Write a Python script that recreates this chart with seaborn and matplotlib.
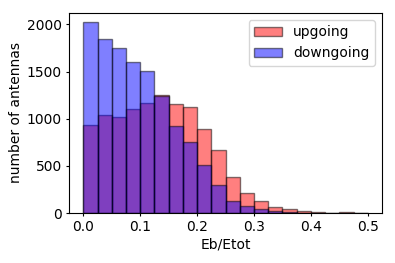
import numpy as np
import pandas as pd
import matplotlib
matplotlib.use("Agg")
import matplotlib.pyplot as plt
import seaborn as sns

# bin centres of Eb/Etot and counts per bin
bin_width = 0.025
centers = np.round(np.arange(0.0125, 0.5, 0.025), 4)
upgoing = [932, 1035, 1017, 1106, 1162, 1250, 1152, 1128, 895, 670,
           383, 213, 124, 64, 39, 21, 10, 2, 10, 2]
downgoing = [2021, 1844, 1751, 1599, 1503, 1240, 927, 750, 508, 294,
             131, 78, 39, 21, 12, 3, 1, 0, 1, 0]

df = pd.DataFrame({"x": centers, "up": upgoing, "down": downgoing})

plt.rcParams["font.size"] = 10
plt.rcParams["xtick.major.size"] = 2.5
plt.rcParams["ytick.major.size"] = 2.5
plt.rcParams["xtick.major.pad"] = 2.8
plt.rcParams["ytick.major.pad"] = 2.8
plt.rcParams["axes.labelpad"] = 2.5

fig, ax = plt.subplots(figsize=(3.95, 2.63), dpi=100)
edge = (0, 0, 0, 0.5)
sns.histplot(data=df, x="x", weights="up", binwidth=bin_width, binrange=(0, 0.5),
             color="red", alpha=0.5, edgecolor=edge, linewidth=1,
             label="upgoing", ax=ax)
sns.histplot(data=df, x="x", weights="down", binwidth=bin_width, binrange=(0, 0.5),
             color="blue", alpha=0.5, edgecolor=edge, linewidth=1,
             label="downgoing", ax=ax)
ax.set_xlabel("Eb/Etot")
ax.set_ylabel("number of antennas")
ax.set_xticks([0.0, 0.1, 0.2, 0.3, 0.4, 0.5])
ax.set_yticks([0, 500, 1000, 1500, 2000])
ax.legend(loc="upper right")
fig.subplots_adjust(left=0.175, right=0.967, top=0.951, bottom=0.19)
fig.savefig("out.png", dpi=100)
